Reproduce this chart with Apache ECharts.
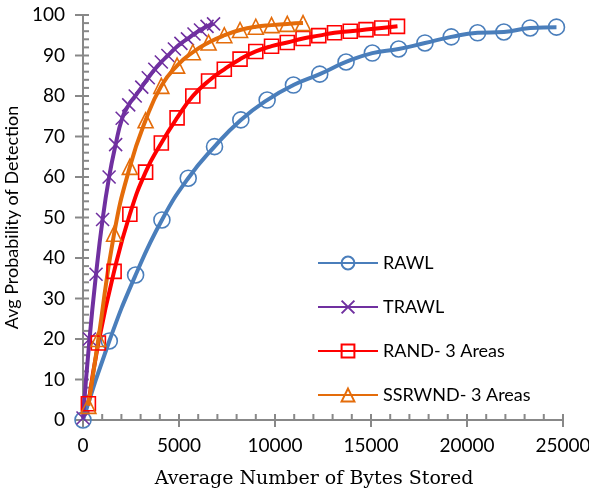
<!DOCTYPE html>
<html>
<head>
<meta charset="utf-8">
<script src="https://cdn.jsdelivr.net/npm/echarts@6/dist/echarts.min.js"></script>
<style>
  html, body { margin: 0; padding: 0; background: #fff; }
  #chart { width: 589px; height: 492px; }
</style>
</head>
<body>
<div id="chart"></div>
<script>
const rawlX = [0, 1370, 2740, 4110, 5480, 6850, 8220, 9590, 10960, 12330, 13700, 15070, 16440, 17810, 19180, 20550, 21920, 23290, 24660];
const rawlY = [0, 19.5, 35.8, 49.4, 59.7, 67.5, 74.1, 79, 82.7, 85.4, 88.4, 90.6, 91.6, 93.1, 94.6, 95.6, 95.8, 96.8, 97];

const trawlX = [0, 340, 680, 1020, 1360, 1700, 2040, 2380, 2720, 3060, 3400, 3740, 4080, 4420, 4760, 5100, 5440, 5780, 6120, 6460, 6800];
const trawlY = [0.5, 20, 36, 49.5, 60, 68, 74.5, 77.8, 80, 82.2, 84.5, 86.6, 88.4, 90, 91.6, 93, 94.1, 95.3, 96.3, 97.2, 97.8];

const randX = [280, 800, 1620, 2440, 3260, 4080, 4900, 5720, 6540, 7360, 8180, 9000, 9820, 10640, 11460, 12280, 13100, 13920, 14740, 15560, 16380];
const randY = [4, 19, 36.7, 50.8, 61.2, 68.4, 74.6, 80, 83.7, 86.6, 89.1, 91, 92.3, 93.2, 94.2, 94.9, 95.6, 96, 96.4, 96.8, 97.2];

const ssrwndX = [280, 800, 1620, 2440, 3260, 4080, 4900, 5720, 6540, 7360, 8180, 9000, 9820, 10640, 11460];
const ssrwndY = [3.5, 20, 46, 62.5, 74, 82.5, 87.5, 90.8, 93.2, 95, 96.3, 97.1, 97.5, 97.8, 98];

const xTicks = [0, 5000, 10000, 15000, 20000, 25000];
const yTicks = [0, 10, 20, 30, 40, 50, 60, 70, 80, 90, 100];

const axisGray = '#888888';
const crossPath = 'path://M0,0L10,10M10,0L0,10';

function pairs(xs, ys) {
  return xs.map((x, i) => [x, ys[i]]);
}

// major ticks plus 4 minor ticks between each pair (Excel style)
function withMinor(ticks) {
  const out = [];
  for (let i = 0; i < ticks.length; i++) {
    out.push({ v: ticks[i], major: true });
    if (i < ticks.length - 1) {
      const step = (ticks[i + 1] - ticks[i]) / 5;
      for (let k = 1; k < 5; k++) out.push({ v: ticks[i] + step * k, major: false });
    }
  }
  return out;
}
const xTickMarks = withMinor(xTicks);
const yTickMarks = withMinor(yTicks);

function makeSeries(name, xs, ys, color, symbol, size) {
  return {
    name: name,
    type: 'line',
    data: pairs(xs, ys),
    smooth: true,
    symbol: symbol,
    symbolSize: size,
    showAllSymbol: true,
    lineStyle: { color: color, width: 4 },
    itemStyle: { color: 'transparent', borderColor: color, borderWidth: 1.6 },
    emphasis: { disabled: true },
    z: 3
  };
}

const chart = echarts.init(document.getElementById('chart'));

const lineGray = { color: axisGray, width: 2 };

chart.setOption({
  backgroundColor: '#fff',
  animation: false,
  grid: { left: 83, right: 26, top: 15, bottom: 72, outerBoundsMode: 'none' },
  legend: {
    orient: 'vertical',
    left: 312,
    top: 249,
    itemWidth: 60,
    itemHeight: 16,
    itemGap: 26,
    textStyle: { fontFamily: 'Lato', fontSize: 18, color: '#000' },
    data: ['RAWL', 'TRAWL', 'RAND- 3 Areas', 'SSRWND- 3 Areas']
  },
  xAxis: {
    type: 'value',
    min: xTicks[0],
    max: xTicks[xTicks.length - 1],
    interval: 5000,
    splitLine: { show: false },
    name: 'Average Number of Bytes Stored',
    nameLocation: 'middle',
    nameGap: 50,
    nameTextStyle: { fontFamily: 'DejaVu Serif', fontSize: 19, color: '#000', padding: [0, 18, 0, 0] },
    axisLine: { lineStyle: lineGray },
    axisTick: { show: false },
    axisLabel: { fontFamily: 'Lato', fontSize: 19, color: '#000', margin: 16, formatter: v => String(v) }
  },
  yAxis: {
    type: 'value',
    min: yTicks[0],
    max: yTicks[yTicks.length - 1],
    interval: 10,
    splitLine: { show: false },
    name: 'Avg Probability of Detection',
    nameLocation: 'middle',
    nameGap: 46,
    nameTextStyle: { fontFamily: 'Lato', fontSize: 18, color: '#000' },
    axisLine: { lineStyle: lineGray },
    axisTick: { show: false },
    axisLabel: { fontFamily: 'Lato', fontSize: 19, color: '#000', margin: 18 }
  },
  series: [
    makeSeries('RAWL', rawlX, rawlY, '#4A7EBB', 'circle', 16),
    makeSeries('TRAWL', trawlX, trawlY, '#7030A0', crossPath, 13),
    makeSeries('RAND- 3 Areas', randX, randY, '#FF0000', 'rect', 14),
    makeSeries('SSRWND- 3 Areas', ssrwndX, ssrwndY, '#E46C0A', 'triangle', 15),
    {
      type: 'custom',
      name: 'xTickMarks',
      silent: true,
      clip: false,
      z: 1,
      data: xTickMarks.map(t => [t.v, yTicks[0], t.major ? 1 : 0]),
      encode: { x: 0, y: 1 },
      renderItem: function (params, api) {
        const p = api.coord([api.value(0), api.value(1)]);
        const major = api.value(2) === 1;
        return {
          type: 'line',
          shape: { x1: p[0], y1: p[1] - 6, x2: p[0], y2: p[1] + (major ? 7 : 0) },
          style: { stroke: axisGray, lineWidth: 2 }
        };
      }
    },
    {
      type: 'custom',
      name: 'yTickMarks',
      silent: true,
      clip: false,
      z: 1,
      data: yTickMarks.map(t => [xTicks[0], t.v, t.major ? 1 : 0]),
      encode: { x: 0, y: 1 },
      renderItem: function (params, api) {
        const p = api.coord([api.value(0), api.value(1)]);
        const major = api.value(2) === 1;
        return {
          type: 'line',
          shape: { x1: p[0] - (major ? 8 : 0), y1: p[1], x2: p[0] + 6, y2: p[1] },
          style: { stroke: axisGray, lineWidth: 2 }
        };
      }
    }
  ]
});
</script>
</body>
</html>
